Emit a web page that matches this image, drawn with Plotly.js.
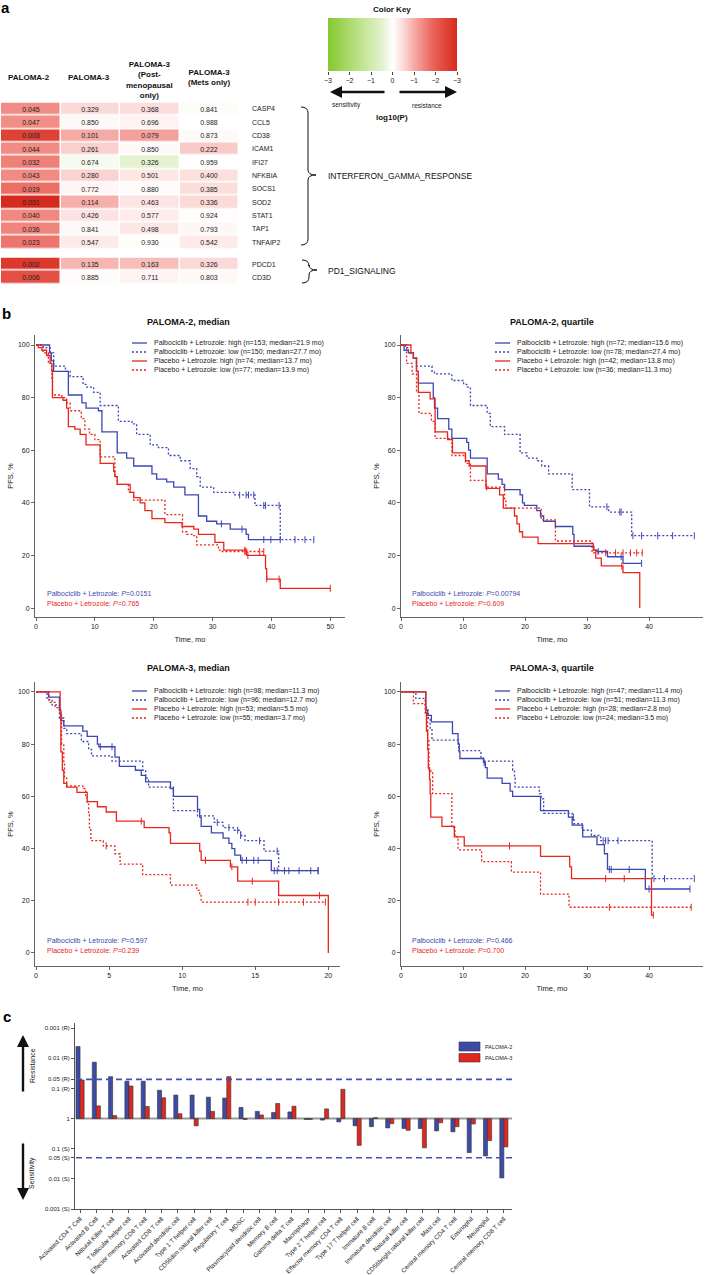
<!DOCTYPE html>
<html><head><meta charset="utf-8">
<script src="https://cdn.plot.ly/plotly-3.0.1.min.js"></script>
<style>body{margin:0;background:#fff}#chart{width:705px;height:1275px}</style>
</head><body><div id="chart"></div>
<script>
// ================= PANEL a DATA =================
const genesIFN = ['CASP4','CCL5','CD38','ICAM1','IFI27','NFKBIA','SOCS1','SOD2','STAT1','TAP1','TNFAIP2'];
const genesPD1 = ['PDCD1','CD3D'];
const colHeaders = ['PALOMA-2','PALOMA-3','PALOMA-3<br>(Post-<br>menopausal<br>only)','PALOMA-3<br>(Mets only)'];
const ifnP2   = [0.045,0.047,0.003,0.044,0.032,0.043,0.019,0.001,0.040,0.036,0.023];
const ifnP3   = [0.329,0.850,0.101,0.261,0.674,0.280,0.772,0.114,0.426,0.841,0.547];
const ifnPost = [0.368,0.696,0.079,0.850,0.326,0.501,0.880,0.463,0.577,0.498,0.930];
const ifnMets = [0.841,0.988,0.873,0.222,0.959,0.400,0.385,0.336,0.924,0.793,0.542];
// direction: 1 = resistance (red), -1 = sensitivity (green)
const ifnDirP2   = [1,1,1,1,1,1,1,1,1,1,1];
const ifnDirP3   = [1,1,1,1,-1,1,1,1,1,1,1];
const ifnDirPost = [1,1,1,1,-1,1,1,1,1,1,1];
const ifnDirMets = [-1,1,1,1,1,1,1,1,1,1,1];
const pd1P2   = [0.002,0.006];
const pd1P3   = [0.135,0.885];
const pd1Post = [0.163,0.711];
const pd1Mets = [0.326,0.803];
const pd1Dir  = [1,1];
const keyTickVals = [-3,-2,-1,0,1,2,3];
const keyTickText = ['\u22123','\u22122','\u22121','0','\u22121','\u22122','\u22123'];

// ================= PANEL b DATA (KM step curves: start time, survival %) =================
// PALOMA-2, median
const p2m_palHigh_t = [0,2.3,2.6,3.0,5.5,7.8,8.5,10.6,11.2,13.8,15.4,16.6,19.7,20.5,22.2,23.4,25.3,27.6,29.0,30.7,33.0,35.7,36.1,41.5];
const p2m_palHigh_s = [100,97,94,90,81,78,76,75,67,59,57,54,51,49,48,46,43,35,33,32,30,28,26,26];
const p2m_palHigh_c = [31.5,35.0,38.7,39.9,41.5];
const p2m_palLow_t = [0,1.2,2.4,3.0,5.0,5.8,8.0,8.6,9.8,10.9,14.0,16.3,17.1,19.4,20.8,22.5,24.5,26.2,27.3,27.9,30.2,33.6,37.2,41.5,47.2];
const p2m_palLow_s = [100,99,97,92,90,88,85,84,82,77,71,70,66,62,61,58,56,53,50,46,44,43,39,26,26];
const p2m_palLow_c = [34.6,35.7,36.1,37.0,38.7,39.0,41.3,44.0,45.7,47.2];
const p2m_plaHigh_t = [0,0.4,1.0,1.8,2.4,2.7,2.8,4.6,5.2,5.5,6.6,7.5,8.5,10.9,13.2,13.4,13.8,16.0,16.6,17.7,18.5,19.7,21.9,24.8,26.8,27.6,30.4,31.9,35.8,39.0,39.2,41.5,50];
const p2m_plaHigh_s = [100,99,98,96,93,90,80,79,76,69,68,66,62,55,52,50,47,44,42,40,37,34,32.5,31,30,28,25,22,20,15,11,7.5,7.5];
const p2m_plaHigh_c = [35.5,36.0,39.2,41.3,50];
const p2m_plaLow_t = [0,1.2,2.1,2.7,2.8,4.4,5.2,5.8,7.7,8.3,9.1,10.0,10.9,13.4,13.8,15.7,16.6,21.9,24.9,25.6,26.8,27.3,31.0,31.5,38.7];
const p2m_plaLow_s = [100,97,93,87,81,80,78,75,72,68,66,64,57.5,50,47,44,41,35.5,29,28,27.5,24,22,21.5,21.5];
const p2m_plaLow_c = [35.5,35.7,38.0,38.7];
// PALOMA-2, quartile
const p2q_palHigh_t = [0,0.5,1.2,2.0,2.5,2.8,5.2,5.4,5.9,7.7,8.2,10.6,10.9,11.2,13.9,15.7,16.3,16.7,19.2,19.6,19.9,21.9,22.5,23.0,24.9,27.7,27.9,31.1,31.6,33.3,35.8,38.8];
const p2q_palHigh_s = [100,98,97,95,90,85.5,80,76,72,68,64.5,63,60,57,51,49,47,45,43,40,39,37,35,33,31,28,23.5,22,21.5,19.5,17,17];
const p2q_palHigh_c = [31.8,35.5,38.8];
const p2q_palLow_t = [0,0.7,1.2,2.0,2.5,5.0,5.4,8.2,10.1,10.6,11.2,13.9,14.4,16.7,19.2,20.3,21.9,22.7,23.8,27.6,30.4,33.5,37.2,47.3];
const p2q_palLow_s = [100,99,97,95,92,90,89,86.5,85,84,77,74,69,66,59,57,56,54,51,45,38.5,36.5,27.5,27.5];
const p2q_palLow_c = [33.2,35.3,35.5,37.4,38.8,41.4,43.8,47.3];
const p2q_plaHigh_t = [0,1.6,2.0,2.5,2.8,4.7,5.5,7.5,8.3,10.4,11.0,13.7,15.9,16.5,18.3,18.7,19.1,19.6,22.1,31.0,31.4,32.3,35.8,38.5];
const p2q_plaHigh_s = [100,97,95,90,82,79.5,67,64,59,56,54,45.5,43,38,35,32,29,27,24.5,22,19,16,13.5,0];
const p2q_plaHigh_c = [35.6];
const p2q_plaLow_t = [0,0.9,1.8,2.5,2.9,4.9,5.5,8.2,10.4,11.2,13.7,16.7,16.9,22.6,24.9,30.8,38.9];
const p2q_plaLow_s = [100,93,89,82,74,71,64.5,58,55,48.5,46,41,38,33.5,25.5,21,21];
const p2q_plaLow_c = [13.8,33.0,34.6,35.8,37.0,38.0,38.9];
// PALOMA-3, median
const p3m_palHigh_t = [0,0.85,1.6,1.7,1.9,3.2,3.5,4.2,4.3,5.4,5.7,6.8,7.2,7.5,9.2,9.4,11.05,11.2,11.3,12.0,12.8,13.2,13.4,13.6,14.0,16.1,19.3];
const p3m_palHigh_s = [100,98,93,89,87,85,83,80,79,75,71.5,70,68,65.5,63,60,55,52,48.5,46,44,42,40,37.5,35.5,31.5,31.5];
const p3m_palHigh_c = [4.4,5.2,14.1,14.4,14.9,15.2,16.3,16.5,17.3,18.0,18.8,19.3];
const p3m_palLow_t = [0,0.75,1.1,1.6,1.9,2.1,3.1,3.6,3.8,5.2,7.3,7.5,7.7,9.4,11.05,12.2,12.8,13.5,14.0,14.3,15.6,16.6,19.3];
const p3m_palLow_s = [100,97,95,90,86,84,81,78,75.5,73.5,70,67,63.5,54.5,52.5,50,48,47,45,43,39,31.5,31.5];
const p3m_palLow_c = [12.4,13.2,13.8,14.0,15.3,16.5,17.0,19.3];
const p3m_plaHigh_t = [0,1.65,1.7,1.8,1.9,2.1,2.8,3.5,4.2,4.8,5.5,7.4,9.1,9.2,11.2,11.3,13.3,13.8,16.6,20,20];
const p3m_plaHigh_s = [100,92,77,70,65,63.5,61.5,58,56,54,50.5,48,46,42,39,35.5,33,27.5,22,22,0];
const p3m_plaHigh_c = [7.2,11.6,13.4,14.8,19.4];
const p3m_plaLow_t = [0,0.9,1.3,1.65,1.75,1.9,1.95,2.1,3.2,3.4,3.5,3.6,3.65,3.75,4.6,5.4,5.75,7.3,9.2,11.0,11.2,11.3,19.8];
const p3m_plaLow_s = [100,96,94,92,80,73,67,64,63,60,57,53,48,43,41,38,34,30,26,24,22,19.5,19.5];
const p3m_plaLow_c = [4.8,14.5,15.0,16.6,18.3,19.8];
// PALOMA-3, quartile
const p3q_palHigh_t = [0,4.0,4.3,4.9,8.3,9.2,9.4,9.5,13.3,13.6,13.9,16.3,17.6,18.0,22.5,27.0,27.6,29.3,31.6,32.8,33.3,39.4,46.6];
const p3q_palHigh_s = [100,93,91,88.5,84,80,77,74.5,73,71,67,65,62,60,54.5,52,49,44.5,41.5,38,32,24.5,24.5];
const p3q_palHigh_c = [13.4,33.6,33.9,36.8,40.0,46.6];
const p3q_palLow_t = [0,2.4,3.9,4.1,4.4,4.7,5.0,9.3,12.9,13.3,18.0,18.3,18.4,22.3,22.6,23.0,27.6,27.9,29.2,30.7,32.2,40.5,47.3];
const p3q_palLow_s = [100,97.5,95,93,90,86,81.5,77.5,75,73.5,70,67,63.5,61,59,53.5,52,49.5,47,45,43,28.5,28.5];
const p3q_palLow_c = [27.8,32.6,33.0,33.4,35.0,40.8,42.5,47.3];
const p3q_plaHigh_t = [0,4.0,4.1,4.3,4.4,4.6,4.7,4.8,6.6,8.6,10.2,22.5,27.2,27.5,40.4,40.7];
const p3q_plaHigh_s = [100,92,85,78,71,66.5,61,52,48.5,44.5,41,37,33,28.5,14.5,14.5];
const p3q_plaHigh_c = [17.5,33.0,36.0,40.7];
const p3q_plaLow_t = [0,2.0,3.9,4.3,4.5,4.8,5.1,8.2,8.7,9.2,13.0,17.8,22.5,27.1,46.8];
const p3q_plaLow_s = [100,95.5,92,82,70,69.5,61,48,44.5,39.5,35,31,22.5,17.5,17.5];
const p3q_plaLow_c = [33.6,46.8];

// ================= PANEL c DATA (signed -log10 P: + resistance, - sensitivity) =================
const cellTypes = ['Activated CD4 T Cell','Activated B Cell','Natural Killer T cell','T follicular helper cell','Effector memory CD8 T cell','Activated CD8 T cell','Activated dendritic cell','Type 1 T helper cell','CD56dim natural killer cell','Regulatory T cell','MDSC','Plasmacytoid dendritic cell','Memory B cell','Gamma delta T cell','Macrophage','Type 2 T helper cell','Effector memory CD4 T cell','Type 17 T helper cell','Immature B cell','Immature dendritic cell','Natural killer cell','CD56bright natural killer cell','Mast cell','Central memory CD4 T cell','Eosinophil','Neutrophil','Central memory CD8 T cell'];
const paloma2Score = [2.39,1.87,1.39,1.24,1.24,0.94,0.78,0.78,0.71,0.68,0.37,0.24,0.20,0.22,-0.03,-0.05,-0.11,-0.24,-0.27,-0.31,-0.33,-0.33,-0.41,-0.44,-1.13,-1.24,-1.97];
const paloma3Score = [1.28,0.42,0.10,1.08,0.40,0.69,0.16,-0.24,0.24,1.39,-0.03,0.12,0.50,0.41,-0.03,0.32,0.97,-0.89,0.03,-0.17,-0.39,-0.97,-0.14,-0.27,-0.18,-0.73,-0.94];
const barTickVals = [3,2,Math.log10(20),1,0,-1,-Math.log10(20),-2,-3];
const barTickText = ['0.001 (R)','0.01 (R)','0.05 (R)','0.1 (R)','1','0.1 (S)','0.05 (S)','0.01 (S)','0.001 (S)'];

// ================= HELPERS =================
const W = 705, H = 1275;
const X = p => p / W, Y = p => 1 - p / H;
const dX = (a, b) => [X(a), X(b)];
const dY = (top, bot) => [Y(bot), Y(top)];
const FONT = 'Arial, "Liberation Sans", Helvetica, sans-serif';
const BLUE = '#3d46b2', RED = '#e8261c';
const BAR_BLUE = '#3e4aa8', BAR_RED = '#e0281e';
const annotations = [], shapes = [], traces = [];
function ann(px, py, text, o = {}) {
  annotations.push(Object.assign({xref:'paper', yref:'paper', x:X(px), y:Y(py), text, showarrow:false,
    xanchor:'center', yanchor:'middle', font:{family:FONT, size:7, color:'#222'}}, o));
}
function arrow(hx, hy, axp, ayp) {
  annotations.push({xref:'paper', yref:'paper', x:X(hx), y:Y(hy), ax:axp, ay:ayp, text:'',
    showarrow:true, arrowhead:2, arrowsize:1, arrowwidth:2.4, arrowcolor:'#111', standoff:0, startstandoff:0});
}
const colorscale = [
  [0, '#86c832'], [0.25, '#bfe38d'], [0.4167, '#e3f2cf'], [0.5, '#ffffff'],
  [0.5833, '#fbd8d6'], [0.6667, '#f5aaa5'], [0.75, '#ef8078'], [0.8333, '#e85a4f'], [1, '#d52b1e']];
const sc = (p, d) => d * -Math.log10(p);

// ================= PANEL a =================
ann(5, 8, '<b>a</b>', {font:{family:FONT, size:15, color:'#000'}});
function heatTrace(cols, dirs, yaxis) {
  const n = cols[0].length;
  const z = [], txt = [];
  for (let i = 0; i < n; i++) {
    z.push(cols.map((c, j) => sc(c[i], dirs[j][i])));
    txt.push(cols.map(c => c[i].toFixed(3)));
  }
  return {type:'heatmap', xaxis:'x', yaxis, z, text:txt, texttemplate:'%{text}',
    textfont:{family:FONT, size:7, color:'#222'}, x:[0,1,2,3], y:[...Array(n).keys()],
    colorscale, zmin:-3, zmax:3, showscale:false, xgap:1.5, ygap:1.5, hoverinfo:'skip'};
}
traces.push(heatTrace([ifnP2, ifnP3, ifnPost, ifnMets], [ifnDirP2, ifnDirP3, ifnDirPost, ifnDirMets], 'y'));
traces.push(heatTrace([pd1P2, pd1P3, pd1Post, pd1Mets], [pd1Dir, pd1Dir, pd1Dir, pd1Dir], 'y2'));
const colCenters = [29, 89, 149, 209];
const headerY = [77, 77, 79.5, 77];
colHeaders.forEach((h, i) => ann(colCenters[i], headerY[i], '<b>' + h + '</b>', {font:{family:FONT, size:8, color:'#111'}}));
genesIFN.forEach((g, i) => ann(250, 109 + i * 13.3, g, {xanchor:'left'}));
genesPD1.forEach((g, i) => ann(250, 264.2 + i * 13.3, g, {xanchor:'left'}));
// braces
function brace(x0, xm, xt, y0, ym, y1) {
  const P = (a, b) => X(a).toFixed(5) + ',' + Y(b).toFixed(5);
  const path = 'M' + P(x0, y0) + ' Q' + P(xm, y0) + ' ' + P(xm, y0 + 6) + ' L' + P(xm, ym - 5) +
    ' Q' + P(xm, ym) + ' ' + P(xt, ym) + ' Q' + P(xm, ym) + ' ' + P(xm, ym + 5) +
    ' L' + P(xm, y1 - 6) + ' Q' + P(xm, y1) + ' ' + P(x0, y1);
  shapes.push({type:'path', xref:'paper', yref:'paper', path, line:{color:'#111', width:1}});
}
brace(301, 308, 316, 107, 175, 245);
brace(302, 309, 317, 260, 270, 283);
ann(326, 176, 'INTERFERON_GAMMA_RESPONSE', {xanchor:'left', font:{family:FONT, size:8.5, color:'#111'}});
ann(326, 271, 'PD1_SIGNALING', {xanchor:'left', font:{family:FONT, size:8.5, color:'#111'}});
// color key
traces.push({type:'heatmap', xaxis:'x2', yaxis:'y3', z:[[keyTickVals[0], keyTickVals[6]]], x:[keyTickVals[0], keyTickVals[6]], y:[0],
  zsmooth:'best', colorscale, zmin:-3, zmax:3, showscale:false, hoverinfo:'skip'});
ann(392, 10, '<b>Color Key</b>', {font:{family:FONT, size:8, color:'#111'}});
arrow(330, 92, 56, 0);
arrow(457, 92, -59, 0);
ann(346, 105, 'sensitivity', {font:{family:FONT, size:6.5, color:'#222'}});
ann(427, 105, 'resistance', {font:{family:FONT, size:6.5, color:'#222'}});
ann(392, 118, '<b>log10(P)</b>', {font:{family:FONT, size:8, color:'#111'}});

// ================= PANEL b =================
ann(6, 313, '<b>b</b>', {font:{family:FONT, size:15, color:'#000'}});
function stepAt(t, ts, ss) { let v = ss[0]; for (let i = 0; i < ts.length; i++) if (ts[i] <= t) v = ss[i]; return v; }
const kmAxes = {};
function kmPanel(cfg) {
  const {xa, ya, xd, xr, xt, yd, yr, title, tx, ty, curves, legX, legY, legTexts, pX, pY, pTexts} = cfg;
  kmAxes['xaxis' + xa.slice(1)] = {domain:dX(xd[0], xd[1]), range:xr, anchor:ya, tickvals:xt, ticks:'outside', ticklen:3,
    tickcolor:'#666', showline:true, linecolor:'#666', linewidth:1, showgrid:false, zeroline:false,
    tickfont:{family:FONT, size:7, color:'#222'}, title:{text:'Time, mo', font:{family:FONT, size:7.5, color:'#222'}, standoff:7}};
  kmAxes['yaxis' + ya.slice(1)] = {domain:dY(yd[0], yd[1]), range:yr, anchor:xa, tickvals:[0,20,40,60,80,100], ticks:'outside', ticklen:3,
    tickcolor:'#666', showline:true, linecolor:'#666', linewidth:1, showgrid:false, zeroline:false,
    tickfont:{family:FONT, size:7, color:'#222'}, title:{text:'PFS, %', font:{family:FONT, size:7.5, color:'#222'}, standoff:3}};
  curves.forEach(c => {
    traces.push({type:'scatter', mode:'lines', xaxis:xa, yaxis:ya, x:c.t, y:c.s, line:{shape:'hv', color:c.color, width:1.3, dash:c.dash}, hoverinfo:'skip'});
    traces.push({type:'scatter', mode:'markers', xaxis:xa, yaxis:ya, x:c.c, y:c.c.map(t => stepAt(t, c.t, c.s)),
      marker:{symbol:'line-ns-open', size:5, color:c.color, line:{color:c.color, width:1}}, hoverinfo:'skip'});
  });
  ann(tx, ty, '<b>' + title + '</b>', {font:{family:FONT, size:9, color:'#111'}});
  curves.forEach((c, i) => {
    const y = legY + i * 9;
    shapes.push({type:'line', xref:'paper', yref:'paper', x0:X(legX), x1:X(legX + 15), y0:Y(y), y1:Y(y), line:{color:c.color, width:1.3, dash:c.dash}});
    ann(legX + 20, y, legTexts[i], {xanchor:'left'});
  });
  ann(pX, pY, pTexts[0], {xanchor:'left', font:{family:FONT, size:7, color:BLUE}});
  ann(pX, pY + 10, pTexts[1], {xanchor:'left', font:{family:FONT, size:7, color:RED}});
}
const solid = 'solid', dot = '2px,2px';
kmPanel({xa:'x3', ya:'y4', xd:[35,345], xr:[-0.17,52.5], xt:[0,10,20,30,40,50], yd:[335,617], yr:[-3.4,103.8],
  title:'PALOMA-2, median', tx:188, ty:322,
  curves:[{t:p2m_palHigh_t, s:p2m_palHigh_s, c:p2m_palHigh_c, color:BLUE, dash:solid},
          {t:p2m_palLow_t, s:p2m_palLow_s, c:p2m_palLow_c, color:BLUE, dash:dot},
          {t:p2m_plaHigh_t, s:p2m_plaHigh_s, c:p2m_plaHigh_c, color:RED, dash:solid},
          {t:p2m_plaLow_t, s:p2m_plaLow_s, c:p2m_plaLow_c, color:RED, dash:dot}],
  legX:132, legY:343,
  legTexts:['Palbociclib + Letrozole: high (n=153; median=21.9 mo)','Palbociclib + Letrozole: low (n=150; median=27.7 mo)',
            'Placebo + Letrozole: high (n=74; median=13.7 mo)','Placebo + Letrozole: low (n=77; median=13.9 mo)'],
  pX:45, pY:593, pTexts:['Palbociclib + Letrozole: <i>P</i>=0.0151','Placebo + Letrozole: <i>P</i>=0.765']});
kmPanel({xa:'x4', ya:'y5', xd:[401,703], xr:[0,48.7], xt:[0,10,20,30,40], yd:[335,617], yr:[-3.4,103.8],
  title:'PALOMA-2, quartile', tx:552, ty:322,
  curves:[{t:p2q_palHigh_t, s:p2q_palHigh_s, c:p2q_palHigh_c, color:BLUE, dash:solid},
          {t:p2q_palLow_t, s:p2q_palLow_s, c:p2q_palLow_c, color:BLUE, dash:dot},
          {t:p2q_plaHigh_t, s:p2q_plaHigh_s, c:p2q_plaHigh_c, color:RED, dash:solid},
          {t:p2q_plaLow_t, s:p2q_plaLow_s, c:p2q_plaLow_c, color:RED, dash:dot}],
  legX:495, legY:343,
  legTexts:['Palbociclib + Letrozole: high (n=72; median=15.6 mo)','Palbociclib + Letrozole: low (n=78; median=27.4 mo)',
            'Placebo + Letrozole: high (n=42; median=13.8 mo)','Placebo + Letrozole: low (n=36; median=11.3 mo)'],
  pX:410, pY:593, pTexts:['Palbociclib + Letrozole: <i>P</i>=0.00794','Placebo + Letrozole: <i>P</i>=0.609']});
kmPanel({xa:'x5', ya:'y6', xd:[35,340], xr:[-0.07,20.8], xt:[0,5,10,15,20], yd:[682,966], yr:[-5,103.8],
  title:'PALOMA-3, median', tx:188, ty:668,
  curves:[{t:p3m_palHigh_t, s:p3m_palHigh_s, c:p3m_palHigh_c, color:BLUE, dash:solid},
          {t:p3m_palLow_t, s:p3m_palLow_s, c:p3m_palLow_c, color:BLUE, dash:dot},
          {t:p3m_plaHigh_t, s:p3m_plaHigh_s, c:p3m_plaHigh_c, color:RED, dash:solid},
          {t:p3m_plaLow_t, s:p3m_plaLow_s, c:p3m_plaLow_c, color:RED, dash:dot}],
  legX:132, legY:691,
  legTexts:['Palbociclib + Letrozole: high (n=98; median=11.3 mo)','Palbociclib + Letrozole: low (n=96; median=12.7 mo)',
            'Placebo + Letrozole: high (n=53; median=5.5 mo)','Placebo + Letrozole: low (n=55; median=3.7 mo)'],
  pX:45, pY:940, pTexts:['Palbociclib + Letrozole: <i>P</i>=0.597','Placebo + Letrozole: <i>P</i>=0.239']});
kmPanel({xa:'x6', ya:'y7', xd:[401,703], xr:[0,48.7], xt:[0,10,20,30,40], yd:[682,966], yr:[-5,103.8],
  title:'PALOMA-3, quartile', tx:552, ty:668,
  curves:[{t:p3q_palHigh_t, s:p3q_palHigh_s, c:p3q_palHigh_c, color:BLUE, dash:solid},
          {t:p3q_palLow_t, s:p3q_palLow_s, c:p3q_palLow_c, color:BLUE, dash:dot},
          {t:p3q_plaHigh_t, s:p3q_plaHigh_s, c:p3q_plaHigh_c, color:RED, dash:solid},
          {t:p3q_plaLow_t, s:p3q_plaLow_s, c:p3q_plaLow_c, color:RED, dash:dot}],
  legX:495, legY:691,
  legTexts:['Palbociclib + Letrozole: high (n=47; median=11.4 mo)','Palbociclib + Letrozole: low (n=51; median=11.3 mo)',
            'Placebo + Letrozole: high (n=28; median=2.8 mo)','Placebo + Letrozole: low (n=24; median=3.5 mo)'],
  pX:410, pY:940, pTexts:['Palbociclib + Letrozole: <i>P</i>=0.466','Placebo + Letrozole: <i>P</i>=0.700']});

// ================= PANEL c =================
ann(7, 1016, '<b>c</b>', {font:{family:FONT, size:15, color:'#000'}});
traces.push({type:'bar', xaxis:'x7', yaxis:'y8', x:cellTypes, y:paloma2Score, name:'PALOMA-2',
  marker:{color:BAR_BLUE, line:{color:'#333', width:0.6}}, hoverinfo:'skip'});
traces.push({type:'bar', xaxis:'x7', yaxis:'y8', x:cellTypes, y:paloma3Score, name:'PALOMA-3',
  marker:{color:BAR_RED, line:{color:'#333', width:0.6}}, hoverinfo:'skip'});
shapes.push({type:'line', xref:'paper', yref:'y8', x0:X(76), x1:X(512), y0:0, y1:0, line:{color:'#9a9a9a', width:2}, layer:'below'});
[barTickVals[2], barTickVals[6]].forEach(v => shapes.push({type:'line', xref:'paper', yref:'y8', x0:X(76), x1:X(512), y0:v, y1:v,
  line:{color:'#4650b8', width:1.6, dash:'6px,4px'}}));
// legend boxes
shapes.push({type:'rect', xref:'paper', yref:'paper', x0:X(459), x1:X(480), y0:Y(1051), y1:Y(1042), fillcolor:BAR_BLUE, line:{color:'#333', width:0.6}});
shapes.push({type:'rect', xref:'paper', yref:'paper', x0:X(459), x1:X(480), y0:Y(1062), y1:Y(1053.5), fillcolor:BAR_RED, line:{color:'#333', width:0.6}});
ann(483, 1046.5, 'PALOMA-2', {xanchor:'left', font:{family:FONT, size:5.5, color:'#222'}});
ann(483, 1058, 'PALOMA-3', {xanchor:'left', font:{family:FONT, size:5.5, color:'#222'}});
arrow(23, 1035, 0, 58);
arrow(23, 1200, 0, -58);
ann(32, 1066, 'Resistance', {textangle:-90, font:{family:FONT, size:7, color:'#222'}});
ann(32, 1173, 'Sensitivity', {textangle:-90, font:{family:FONT, size:7, color:'#222'}});

// ================= LAYOUT =================
const layout = Object.assign({
  width:W, height:H, margin:{l:0, r:0, t:0, b:0}, paper_bgcolor:'#fff', plot_bgcolor:'rgba(0,0,0,0)',
  showlegend:false, font:{family:FONT, size:7, color:'#222'}, barmode:'group', bargap:0.5, bargroupgap:0,
  xaxis:{domain:dX(1,239), range:[-0.5,3.5], visible:false, anchor:'y', fixedrange:true},
  yaxis:{domain:dY(102.5,249), range:[10.5,-0.5], visible:false, anchor:'x'},
  yaxis2:{domain:dY(257.5,284), range:[1.5,-0.5], visible:false, anchor:'x'},
  xaxis2:{domain:dX(328,457), range:[-3,3], anchor:'y3', tickvals:keyTickVals, ticktext:keyTickText, ticks:'outside', ticklen:3,
    tickcolor:'#444', showline:false, showgrid:false, zeroline:false, tickfont:{family:FONT, size:7, color:'#222'}},
  yaxis3:{domain:dY(18,71), range:[-0.5,0.5], visible:false, anchor:'x2'},
  xaxis7:{domain:dX(75,512), type:'category', range:[-0.31,26.5], anchor:'y8', tickangle:-45, ticks:'outside', ticklen:3,
    tickcolor:'#555', showline:true, linecolor:'#555', linewidth:1, showgrid:false, zeroline:false,
    tickfont:{family:FONT, size:6.3, color:'#222'}},
  yaxis8:{domain:dY(1023,1209), range:[-3,3.17], anchor:'x7', tickvals:barTickVals, ticktext:barTickText, ticks:'outside', ticklen:3,
    tickcolor:'#555', showline:true, linecolor:'#555', linewidth:1, showgrid:false, zeroline:false,
    tickfont:{family:FONT, size:6, color:'#222'}},
  annotations, shapes
}, kmAxes);
Plotly.newPlot('chart', traces, layout, {staticPlot:true, displayModeBar:false});
</script></body></html>
